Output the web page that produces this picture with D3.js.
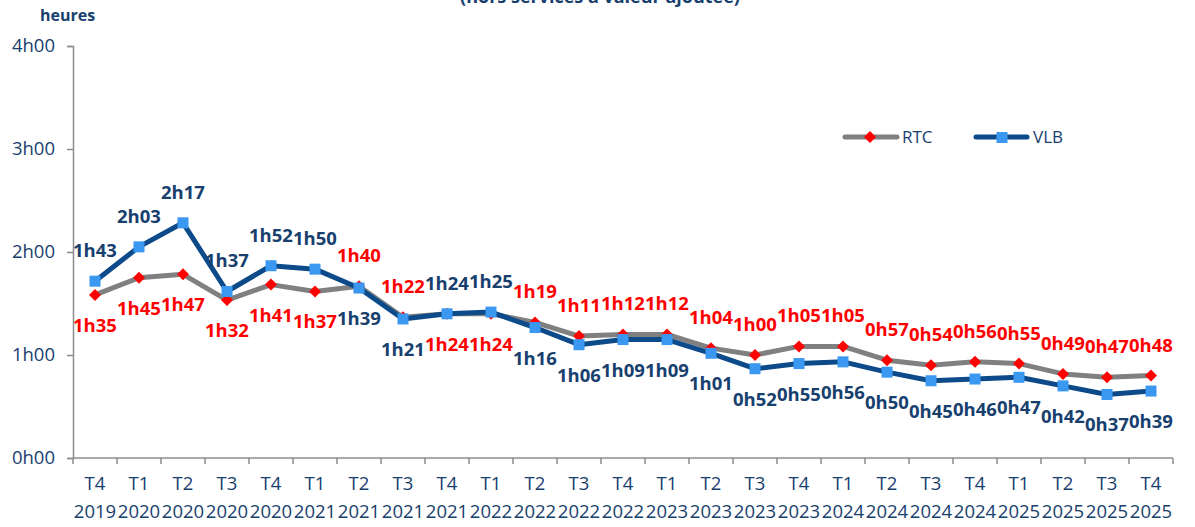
<!DOCTYPE html>
<html>
<head>
<meta charset="utf-8">
<script src="https://cdn.jsdelivr.net/npm/d3@7"></script>
<style>
  body { margin: 0; background: #fff; }
  svg { display: block; font-family: "Open Sans", sans-serif; }
</style>
</head>
<body>
<svg id="chart" width="1195" height="527"></svg>
<script>
// --- data (minutes) ---
const quarters = ["T4","T1","T2","T3","T4","T1","T2","T3","T4","T1","T2","T3","T4",
                  "T1","T2","T3","T4","T1","T2","T3","T4","T1","T2","T3","T4"];
const years = ["2019","2020","2020","2020","2020","2021","2021","2021","2021","2022","2022","2022","2022",
               "2023","2023","2023","2023","2024","2024","2024","2024","2025","2025","2025","2025"];
const rtc = [95,105,107,92,101,97,100,82,84,84,79,71,72,72,64,60,65,65,57,54,56,55,49,47,48];
const vlb = [103,123,137,97,112,110,99,81,84,85,76,66,69,69,61,52,55,56,50,45,46,47,42,37,39];
const yTicks = [0,60,120,180,240];

const textBlue = "#17406e";
const fmt = m => Math.floor(m / 60) + "h" + String(m % 60).padStart(2, "0");

const svg = d3.select("#chart");
const plotL = 73, plotR = 1173, plotT = 46, plotB = 458;

const x = d3.scaleBand().domain(d3.range(quarters.length)).range([plotL, plotR]);
const y = d3.scaleLinear().domain([0, 240]).range([plotB, plotT]);

// title (only bottom part visible, as in the source)
svg.append("text")
  .attr("x", 600).attr("y", 3)
  .attr("text-anchor", "middle")
  .attr("font-size", 18).attr("font-weight", "bold")
  .attr("fill", textBlue)
  .text("(hors services à valeur ajoutée)");

svg.append("text")
  .attr("x", 40).attr("y", 21)
  .attr("font-size", 16).attr("font-weight", "bold")
  .attr("fill", textBlue)
  .text("heures");

// y axis
const yAxis = svg.append("g")
  .attr("transform", `translate(${plotL},0)`)
  .call(d3.axisLeft(y).tickValues(yTicks).tickFormat(fmt).tickSize(6).tickPadding(12));
yAxis.select(".domain").attr("stroke", "#8c8c8c").attr("stroke-width", 1.5);
yAxis.selectAll(".tick line").attr("stroke", "#8c8c8c").attr("stroke-width", 1.5);
yAxis.selectAll(".tick text").attr("font-size", 18.5).attr("fill", textBlue)
  .attr("font-family", "Open Sans, sans-serif");

// x axis
const xg = svg.append("g").attr("transform", `translate(0,${plotB})`);
xg.append("line").attr("x1", plotL).attr("x2", plotR).attr("stroke", "#8c8c8c").attr("stroke-width", 1.5);
xg.selectAll(".xt").data(d3.range(quarters.length + 1)).enter().append("line")
  .attr("x1", i => plotL + i * x.step()).attr("x2", i => plotL + i * x.step())
  .attr("y1", 0).attr("y2", 6)
  .attr("stroke", "#8c8c8c").attr("stroke-width", 1.5);
const xl = xg.selectAll(".xl").data(quarters).enter().append("text")
  .attr("text-anchor", "middle")
  .attr("font-size", 18.5).attr("fill", textBlue);
xl.append("tspan").attr("x", (d, i) => x(i) + x.bandwidth() / 2).attr("y", 32).text(d => d);
xl.append("tspan").attr("x", (d, i) => x(i) + x.bandwidth() / 2).attr("y", 60).text((d, i) => years[i]);

const cx = i => x(i) + x.bandwidth() / 2;
const line = d3.line().x((d, i) => cx(i)).y(d => y(d));

// RTC
svg.append("path").datum(rtc).attr("d", line)
  .attr("fill", "none").attr("stroke", "#808080").attr("stroke-width", 5).attr("stroke-linejoin", "round");
svg.selectAll(".rtcm").data(rtc).enter().append("path")
  .attr("d", d3.symbol(d3.symbolSquare, 72)())
  .attr("transform", (d, i) => `translate(${cx(i)},${y(d)}) rotate(45)`)
  .attr("fill", "#ff0000");

// VLB
svg.append("path").datum(vlb).attr("d", line)
  .attr("fill", "none").attr("stroke", "#0d4a8a").attr("stroke-width", 5).attr("stroke-linejoin", "round");
svg.selectAll(".vlbm").data(vlb).enter().append("rect")
  .attr("x", (d, i) => cx(i) - 5.5).attr("y", d => y(d) - 5.5)
  .attr("width", 11).attr("height", 11)
  .attr("fill", "#3a98f0");

// labels: higher series above, lower below
function labels(data, other, color, winsTie) {
  svg.selectAll(null).data(data).enter().append("text")
    .attr("x", (d, i) => cx(i))
    .attr("y", (d, i) => {
      const above = d > other[i] || (d === other[i] && winsTie);
      return y(d) + (above ? -24 : 37);
    })
    .attr("text-anchor", "middle")
    .attr("font-size", 18.5).attr("font-weight", "bold")
    .attr("fill", color)
    .text(fmt);
}
labels(rtc, vlb, "#ff0000", false);
labels(vlb, rtc, textBlue, true);

// legend
const lg = svg.append("g");
lg.append("line").attr("x1", 845).attr("x2", 897).attr("y1", 137).attr("y2", 137)
  .attr("stroke", "#808080").attr("stroke-width", 5).attr("stroke-linecap", "round");
lg.append("path").attr("d", d3.symbol(d3.symbolSquare, 72)())
  .attr("transform", "translate(870,137) rotate(45)").attr("fill", "#ff0000");
lg.append("text").attr("x", 902).attr("y", 143).attr("font-size", 17).attr("fill", textBlue).text("RTC");
lg.append("line").attr("x1", 976).attr("x2", 1027).attr("y1", 137).attr("y2", 137)
  .attr("stroke", "#0d4a8a").attr("stroke-width", 5).attr("stroke-linecap", "round");
lg.append("rect").attr("x", 996.5).attr("y", 132).attr("width", 11).attr("height", 11).attr("fill", "#3a98f0");
lg.append("text").attr("x", 1033).attr("y", 143).attr("font-size", 17).attr("fill", textBlue).text("VLB");
</script>
</body>
</html>
